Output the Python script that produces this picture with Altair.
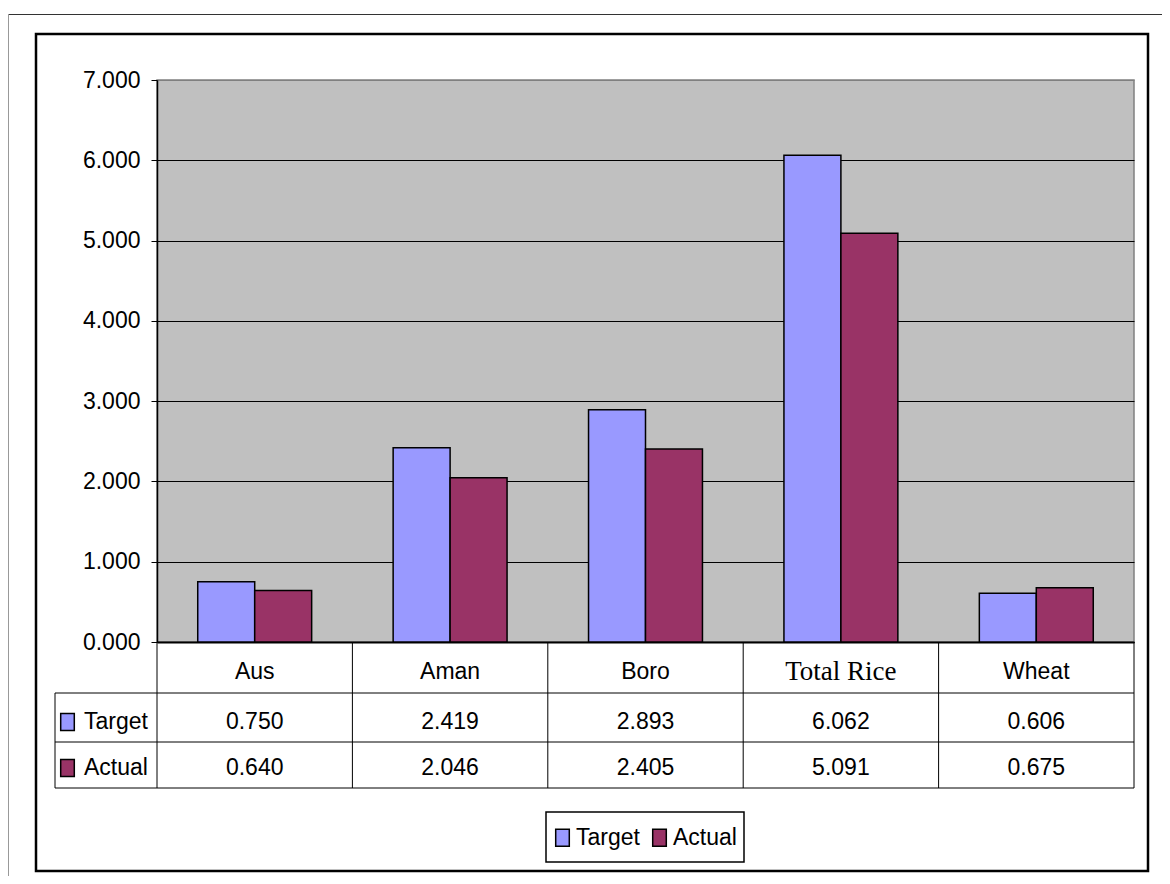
import altair as alt
import pandas as pd

# ---- data ----
categories = ["Aus", "Aman", "Boro", "Total Rice", "Wheat"]
series = ["Target", "Actual"]
target_values = [0.750, 2.419, 2.893, 6.062, 0.606]
actual_values = [0.640, 2.046, 2.405, 5.091, 0.675]
colors = ["#9999FF", "#993366"]
y_ticks = [0, 1, 2, 3, 4, 5, 6, 7]

rows = []
for c, t, a in zip(categories, target_values, actual_values):
    rows.append({"category": c, "series": "Target", "value": t})
    rows.append({"category": c, "series": "Actual", "value": a})
df = pd.DataFrame(rows)

# ---- layout ----
W, H = 977, 562
SANS = "Liberation Sans"
SERIF = "Liberation Serif"
FS = 23
SWATCH = "M-0.8,-1H0.8V1H-0.8Z"
TABLE_BOTTOM = 708
ROW_TOP = 613
ROW_MID = 662
LEFT_COL = -102

color_scale = alt.Scale(domain=series, range=colors)
cat_band = alt.Scale(domain=categories, paddingInner=0.417, paddingOuter=0.2085)
cat_point = alt.Scale(domain=categories)
row_scale = alt.Scale(domain=series, range=[642, 688], padding=0)

one = pd.DataFrame({"k": [0]})

# outer frame lines
outer_top = alt.Chart(one).mark_rule(color="#333333", strokeWidth=1).encode(
    x=alt.value(-149), x2=alt.value(1010), y=alt.value(-65.5))
outer_left = alt.Chart(one).mark_rule(color="#999999", strokeWidth=1).encode(
    x=alt.value(-148.5), y=alt.value(-66), y2=alt.value(800))
inner_frame = alt.Chart(one).mark_rect(fillOpacity=0, stroke="black", strokeWidth=2.5).encode(
    x=alt.value(-121), x2=alt.value(991), y=alt.value(-46), y2=alt.value(791))

bars = alt.Chart(df).mark_bar(stroke="black", strokeWidth=1.5).encode(
    x=alt.X("category:N", scale=cat_band, sort=categories,
            axis=alt.Axis(labels=False, ticks=False, title=None, domainColor="black",
                          domainWidth=2, grid=False)),
    xOffset=alt.XOffset("series:N", scale=alt.Scale(domain=series), sort=series),
    y=alt.Y("value:Q", scale=alt.Scale(domain=[0, 7], nice=False),
            axis=alt.Axis(values=y_ticks, format=".3f", title=None, labelFont=SANS,
                          labelFontSize=FS, labelColor="black", tickColor="black",
                          tickSize=6, labelPadding=11, domainColor="black", domainWidth=1.5,
                          gridColor={"condition": {"test": "datum.value == 7", "value": "#808080"},
                                     "value": "black"},
                          gridWidth=1)),
    color=alt.Color("series:N", scale=color_scale, sort=series,
                    legend=alt.Legend(orient="none", legendX=394, legendY=746,
                                      direction="horizontal", title=None,
                                      symbolType=SWATCH, symbolSize=289,
                                      symbolStrokeColor="black", symbolStrokeWidth=1.5,
                                      symbolOpacity=1, labelFont=SANS, labelFontSize=FS,
                                      labelColor="black", labelOffset=2, columnPadding=8,
                                      padding=0)),
)

# data table lines
bounds = pd.DataFrame({"b": list(range(len(categories) + 1))})
vlines = alt.Chart(bounds).mark_rule(color="black", strokeWidth=1).encode(
    x=alt.X("b:Q", scale=alt.Scale(domain=[0, len(categories)], nice=False, zero=False), axis=None),
    y=alt.value(H), y2=alt.value(TABLE_BOTTOM))
left_col = alt.Chart(one).mark_rule(color="black", strokeWidth=1).encode(
    x=alt.value(LEFT_COL), y=alt.value(ROW_TOP), y2=alt.value(TABLE_BOTTOM))
hlines = [
    alt.Chart(one).mark_rule(color="black", strokeWidth=1).encode(
        x=alt.value(LEFT_COL), x2=alt.value(W), y=alt.value(yy))
    for yy in (ROW_TOP, ROW_MID, TABLE_BOTTOM)
]

cat_df = pd.DataFrame({"category": categories})
header_sans = alt.Chart(cat_df).transform_filter(
    alt.datum.category != "Total Rice"
).mark_text(font=SANS, fontSize=FS, color="black", baseline="middle").encode(
    x=alt.X("category:N", scale=cat_point, axis=None),
    y=alt.value(592), text="category:N")
header_serif = alt.Chart(cat_df).transform_filter(
    alt.datum.category == "Total Rice"
).mark_text(font=SERIF, fontSize=27, color="black", baseline="middle").encode(
    x=alt.X("category:N", scale=cat_point, axis=None),
    y=alt.value(592), text="category:N")

values_text = alt.Chart(df).mark_text(font=SANS, fontSize=FS, color="black", baseline="middle").encode(
    x=alt.X("category:N", scale=cat_point, axis=None),
    y=alt.Y("series:N", scale=row_scale, axis=None),
    text=alt.Text("value:Q", format=".3f"))

row_df = pd.DataFrame({"series": series})
row_swatches = alt.Chart(row_df).mark_point(shape=SWATCH, size=289, filled=True, opacity=1,
                                            stroke="black", strokeWidth=1.5).encode(
    x=alt.value(-89.5),
    y=alt.Y("series:N", scale=row_scale, axis=None),
    color=alt.Color("series:N", scale=color_scale, sort=series))
row_labels = alt.Chart(row_df).mark_text(font=SANS, fontSize=FS, color="black", align="left",
                                         baseline="middle").encode(
    x=alt.value(-73),
    y=alt.Y("series:N", scale=row_scale, axis=None),
    text="series:N")

legend_box = alt.Chart(one).mark_rect(fill="white", stroke="black", strokeWidth=1.5).encode(
    x=alt.value(389), x2=alt.value(587), y=alt.value(732), y2=alt.value(782))

chart = alt.layer(
    outer_top, outer_left, inner_frame, bars, vlines, left_col, *hlines,
    header_sans, header_serif, values_text, row_swatches, row_labels, legend_box
).resolve_scale(
    x="independent", y="independent"
).properties(
    width=W, height=H,
    padding={"left": 149, "top": 72, "right": 28, "bottom": 234},
    autosize=alt.AutoSizeParams(type="none"),
    background="white",
).configure_view(
    fill="#C0C0C0", stroke="#808080", strokeWidth=1.5
)

chart.save("out.html", embed_options={"renderer": "svg", "actions": False})
